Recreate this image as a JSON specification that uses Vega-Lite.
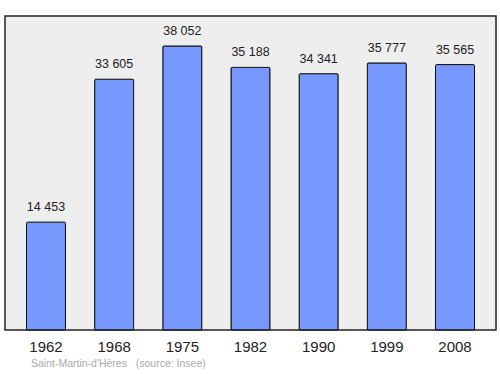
{
  "$schema": "https://vega.github.io/schema/vega-lite/v6.json",
  "width": 491,
  "height": 314,
  "autosize": {"type": "none"},
  "padding": {"left": 5, "top": 16, "right": 4, "bottom": 44},
  "background": "white",
  "config": {
    "locale": {"number": {"decimal": ",", "thousands": " ", "grouping": [3], "currency": ["", " €"]}},
    "view": {"fill": "#eeeeee", "stroke": "#222222", "strokeWidth": 1.5},
    "font": "Liberation Sans"
  },
  "title": {
    "text": "Saint-Martin-d'Hères \u00a0\u00a0(source: Insee)",
    "orient": "bottom",
    "anchor": "start",
    "frame": "group",
    "dx": 26,
    "offset": 5,
    "fontSize": 10.5,
    "fontWeight": "normal",
    "color": "#aaaaaa",
    "font": "Liberation Sans"
  },
  "data": {
    "values": [
      {"year": "1962", "pop": 14453},
      {"year": "1968", "pop": 33605},
      {"year": "1975", "pop": 38052},
      {"year": "1982", "pop": 35188},
      {"year": "1990", "pop": 34341},
      {"year": "1999", "pop": 35777},
      {"year": "2008", "pop": 35565}
    ]
  },
  "encoding": {
    "x": {
      "field": "year",
      "type": "ordinal",
      "sort": null,
      "scale": {"paddingInner": 0.428, "paddingOuter": 0.315},
      "axis": {"title": null, "ticks": false, "domain": false, "labelAngle": 0, "labelFontSize": 15, "labelColor": "#222222", "labelPadding": 9, "labelFont": "Liberation Sans"}
    },
    "y": {
      "field": "pop",
      "type": "quantitative",
      "scale": {"domain": [0, 42072], "nice": false},
      "axis": null
    }
  },
  "layer": [
    {"mark": {"type": "bar", "color": "#7799ff", "stroke": "#111111", "strokeWidth": 1, "cornerRadius": 1}},
    {
      "mark": {"type": "text", "baseline": "bottom", "dy": -8, "fontSize": 12.5, "color": "#222222", "font": "Liberation Sans"},
      "encoding": {"text": {"field": "pop", "type": "quantitative", "format": ",d"}}
    }
  ]
}
